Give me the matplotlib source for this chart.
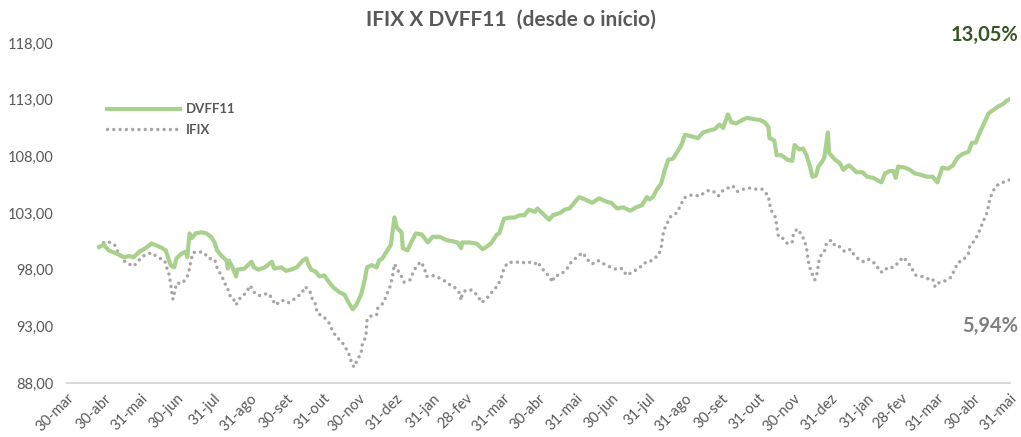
import matplotlib
matplotlib.use("Agg")
import matplotlib.pyplot as plt
import pandas as pd

# ---- data ----
start_date = "2020-03-30"
tick_dates = ["2020-03-30", "2020-04-30", "2020-05-31", "2020-06-30", "2020-07-31", "2020-08-31",
              "2020-09-30", "2020-10-31", "2020-11-30", "2020-12-31", "2021-01-31", "2021-02-28",
              "2021-03-31", "2021-04-30", "2021-05-31", "2021-06-30", "2021-07-31", "2021-08-31",
              "2021-09-30", "2021-10-31", "2021-11-30", "2021-12-31", "2022-01-31", "2022-02-28",
              "2022-03-31", "2022-04-30", "2022-05-31"]
tick_labels = ["30-mar", "30-abr", "31-mai", "30-jun", "31-jul", "31-ago", "30-set", "31-out", "30-nov",
               "31-dez", "31-jan", "28-fev", "31-mar", "30-abr", "31-mai", "30-jun", "31-jul", "31-ago",
               "30-set", "31-out", "30-nov", "31-dez", "31-jan", "28-fev", "31-mar", "30-abr", "31-mai"]
y_ticks = [88, 93, 98, 103, 108, 113, 118]

# days since start_date
dvff_days = [27, 31, 35, 42, 48, 52, 56, 61, 66, 71, 76, 80, 83, 87, 90, 92, 96, 100, 101, 103, 105, 108,
             113, 117, 121, 124, 126, 130, 134, 135, 136, 139, 142, 143, 149, 155, 157, 161, 166, 172, 174,
             180, 184, 188, 193, 198, 201, 203, 205, 209, 212, 216, 220, 224, 229, 233, 237, 240, 243, 247,
             250, 252, 256, 260, 262, 265, 269, 272, 275, 277, 281, 282, 286, 289, 293, 298, 303, 307, 313,
             319, 324, 328, 331, 332, 338, 344, 349, 352, 356, 361, 363, 367, 372, 376, 380, 384, 388, 393,
             395, 399, 405, 408, 414, 418, 422, 426, 430, 435, 441, 447, 453, 457, 462, 467, 473, 478, 483,
             487, 489, 492, 495, 499, 502, 505, 509, 512, 516, 519, 523, 527, 530, 534, 540, 544, 548, 551,
             555, 558, 562, 567, 571, 576, 582, 586, 589, 590, 594, 596, 600, 605, 609, 611, 615, 618, 621,
             624, 626, 629, 631, 634, 636, 639, 640, 645, 649, 652, 655, 657, 663, 668, 672, 677, 684, 687,
             691, 694, 696, 698, 704, 708, 712, 716, 722, 727, 731, 735, 740, 744, 748, 752, 757, 760, 763,
             767, 771, 774, 778, 782, 786, 789, 792]
dvff_values = [100.0, 100.2, 99.7, 99.4, 99.1, 99.2, 99.1, 99.6, 99.9, 100.3, 100.1, 99.9, 99.7, 98.4, 98.2,
               99.0, 99.4, 99.6, 99.1, 101.2, 100.8, 101.2, 101.3, 101.2, 100.9, 100.4, 99.7, 99.2, 98.8,
               98.1, 98.8, 98.2, 97.4, 98.0, 98.1, 98.7, 98.2, 98.0, 98.2, 98.7, 98.1, 98.2, 97.9, 98.0,
               98.2, 98.8, 99.0, 98.4, 98.0, 97.8, 97.4, 97.5, 96.9, 96.4, 96.0, 95.8, 95.0, 94.5, 94.9,
               95.8, 97.1, 98.2, 98.4, 98.2, 98.8, 99.0, 99.7, 100.2, 102.6, 101.7, 101.3, 99.9, 99.7,
               100.4, 101.2, 101.1, 100.4, 100.9, 100.9, 100.6, 100.5, 100.4, 99.9, 100.4, 100.4, 100.3,
               99.8, 100.0, 100.3, 101.1, 101.2, 102.5, 102.6, 102.6, 102.8, 102.8, 103.3, 103.1, 103.4,
               103.0, 102.4, 102.8, 103.0, 103.3, 103.4, 103.9, 104.4, 104.2, 103.9, 104.3, 104.0, 103.9,
               103.4, 103.5, 103.2, 103.5, 103.7, 104.4, 104.2, 104.4, 105.0, 105.6, 106.8, 107.7, 107.8,
               108.3, 109.0, 109.9, 109.8, 109.7, 109.6, 110.1, 110.3, 110.4, 110.8, 110.5, 111.7, 111.0,
               110.9, 111.2, 111.4, 111.3, 111.2, 111.0, 110.6, 109.6, 109.4, 108.1, 108.1, 107.7, 107.6,
               109.0, 108.6, 108.7, 108.1, 107.1, 106.2, 106.3, 107.1, 107.5, 107.9, 110.1, 108.3, 107.7,
               107.4, 106.8, 107.1, 107.2, 106.6, 106.6, 106.2, 106.1, 105.7, 106.5, 106.7, 106.7, 106.1,
               107.1, 107.0, 106.8, 106.5, 106.4, 106.2, 106.2, 105.7, 107.0, 106.9, 107.2, 107.9, 108.2,
               108.4, 109.2, 109.2, 110.2, 111.1, 111.8, 112.1, 112.4, 112.6, 112.9, 113.05]

ifix_days = [27, 31, 34, 40, 43, 47, 50, 56, 61, 64, 71, 76, 82, 84, 86, 88, 89, 92, 97, 101, 103, 104, 106,
             110, 115, 119, 124, 126, 129, 132, 134, 135, 137, 139, 142, 146, 150, 154, 156, 161, 164, 169,
             172, 175, 181, 184, 187, 192, 197, 200, 204, 206, 209, 210, 216, 220, 223, 226, 231, 234, 237,
             239, 241, 244, 247, 248, 251, 252, 255, 260, 261, 266, 268, 271, 273, 275, 277, 281, 283, 288,
             290, 293, 297, 300, 302, 306, 310, 316, 321, 325, 330, 331, 332, 335, 340, 345, 348, 352, 356,
             359, 362, 365, 367, 370, 376, 382, 387, 393, 395, 399, 404, 408, 409, 415, 420, 423, 428, 433,
             437, 441, 446, 451, 457, 462, 466, 470, 475, 480, 485, 488, 492, 497, 499, 500, 501, 504, 507,
             512, 515, 518, 521, 525, 531, 534, 539, 543, 547, 551, 555, 559, 563, 568, 573, 579, 584, 589,
             590, 592, 595, 596, 597, 598, 600, 605, 609, 610, 613, 617, 619, 621, 622, 623, 625, 628, 630,
             631, 632, 636, 638, 642, 645, 648, 653, 658, 661, 665, 669, 672, 674, 679, 683, 686, 689, 694,
             698, 702, 706, 710, 713, 718, 723, 727, 729, 731, 737, 742, 745, 748, 753, 757, 758, 761, 765,
             770, 773, 774, 776, 779, 783, 786, 792]
ifix_values = [100.0, 100.4, 100.5, 100.2, 99.5, 98.9, 98.6, 98.3, 98.9, 99.2, 99.5, 99.1, 98.8, 98.1, 97.5,
               96.0, 95.4, 96.8, 96.8, 97.4, 98.1, 98.8, 99.5, 99.6, 99.5, 99.0, 98.9, 98.2, 97.6, 97.0,
               96.4, 96.3, 95.7, 95.6, 94.9, 95.6, 95.9, 96.6, 96.1, 95.7, 95.8, 95.9, 95.5, 94.9, 95.3,
               95.1, 95.1, 95.5, 95.9, 96.5, 96.1, 95.4, 94.9, 94.2, 93.8, 93.3, 92.6, 92.1, 91.6, 91.1,
               90.5, 89.8, 89.4, 90.1, 90.6, 91.4, 92.1, 93.6, 93.9, 94.0, 94.6, 95.1, 95.7, 96.4, 97.2,
               98.5, 98.1, 97.4, 96.9, 97.1, 97.6, 98.2, 98.7, 98.2, 97.4, 97.5, 97.4, 97.1, 96.7, 96.5,
               95.9, 95.3, 95.9, 96.2, 96.2, 95.7, 95.1, 95.4, 95.9, 96.3, 96.6, 97.4, 98.1, 98.6, 98.7,
               98.6, 98.7, 98.5, 98.7, 98.1, 97.5, 96.9, 97.4, 97.6, 98.1, 98.6, 99.1, 99.5, 98.9, 98.5,
               98.8, 98.5, 98.2, 98.0, 98.1, 97.5, 97.8, 98.1, 98.6, 98.6, 98.9, 99.3, 100.0, 100.7, 101.4,
               102.1, 102.7, 103.0, 103.6, 104.3, 104.5, 104.6, 104.5, 104.7, 105.0, 104.9, 104.5, 105.0,
               105.2, 105.4, 104.9, 105.1, 105.2, 105.1, 105.1, 104.5, 103.8, 103.1, 102.6, 101.9, 101.1,
               100.9, 100.9, 100.3, 100.4, 101.1, 101.6, 101.1, 100.6, 100.0, 99.2, 98.5, 97.8, 97.1, 97.7,
               98.4, 99.1, 99.6, 100.4, 100.6, 100.1, 100.1, 99.6, 99.8, 99.3, 98.9, 98.7, 98.9, 98.9,
               98.5, 97.8, 97.8, 98.2, 98.2, 98.6, 99.1, 98.7, 98.0, 97.5, 97.4, 97.2, 97.2, 96.5, 96.8,
               97.0, 97.3, 97.9, 98.6, 98.9, 99.4, 100.0, 100.4, 101.1, 102.4, 103.1, 103.8, 104.5, 105.2,
               105.6, 105.7, 105.94]

title_text = "IFIX X DVFF11  (desde o início)"
dvff_return = "13,05%"
ifix_return = "5,94%"

# ---- plot ----
plt.rcParams['font.family'] = ['Lato', 'DejaVu Sans']
base = pd.Timestamp(start_date)
dvff_dates = [base + pd.Timedelta(days=d) for d in dvff_days]
ifix_dates = [base + pd.Timedelta(days=d) for d in ifix_days]
ticks = pd.to_datetime(tick_dates)

fig = plt.figure(figsize=(10.21, 4.37), dpi=100)
ax = fig.add_axes([0.0656, 0.1236, 0.9237, 0.778])

ax.plot(dvff_dates, dvff_values, color='#A9D18E', lw=3.0, solid_joinstyle='round', label='DVFF11', zorder=3)
ax.plot(ifix_dates, ifix_values, color='#A6A6A6', lw=2.5, linestyle=(0, (0.01, 1.8)),
        dash_capstyle='round', label='IFIX', zorder=2)

ax.set_ylim(88, 118)
ax.set_xlim(ticks[0], ticks[-1])
ax.set_yticks(y_ticks)
ax.set_yticklabels([f"{v:.2f}".replace('.', ',') for v in y_ticks])
ax.set_xticks(ticks)
ax.set_xticklabels(tick_labels, rotation=45, ha='right', va='top', rotation_mode='anchor')
ax.tick_params(axis='both', length=0, labelsize=10.5, colors='#595959')
ax.tick_params(axis='x', pad=6)
ax.tick_params(axis='y', pad=10)
for s in ['top', 'right', 'left']:
    ax.spines[s].set_visible(False)
ax.spines['bottom'].set_color('#D9D9D9')
ax.spines['bottom'].set_linewidth(1.5)

leg = ax.legend(loc='upper left', bbox_to_anchor=(0.03, 0.857), frameon=False, handlelength=5.5,
                prop={'weight': 'bold', 'size': 9.5}, labelspacing=0.65, handletextpad=0.5)
for t in leg.get_texts():
    t.set_color('#595959')

fig.text(0.5, 0.955, title_text, ha='center', va='center', fontsize=15, fontweight='bold', color='#595959')
fig.text(0.997, 0.92, dvff_return, ha='right', va='center', fontsize=14.5, fontweight='bold', color='#375623')
fig.text(0.997, 0.255, ifix_return, ha='right', va='center', fontsize=14.5, fontweight='bold', color='#7F7F7F')

fig.savefig('out.png', dpi=100)
